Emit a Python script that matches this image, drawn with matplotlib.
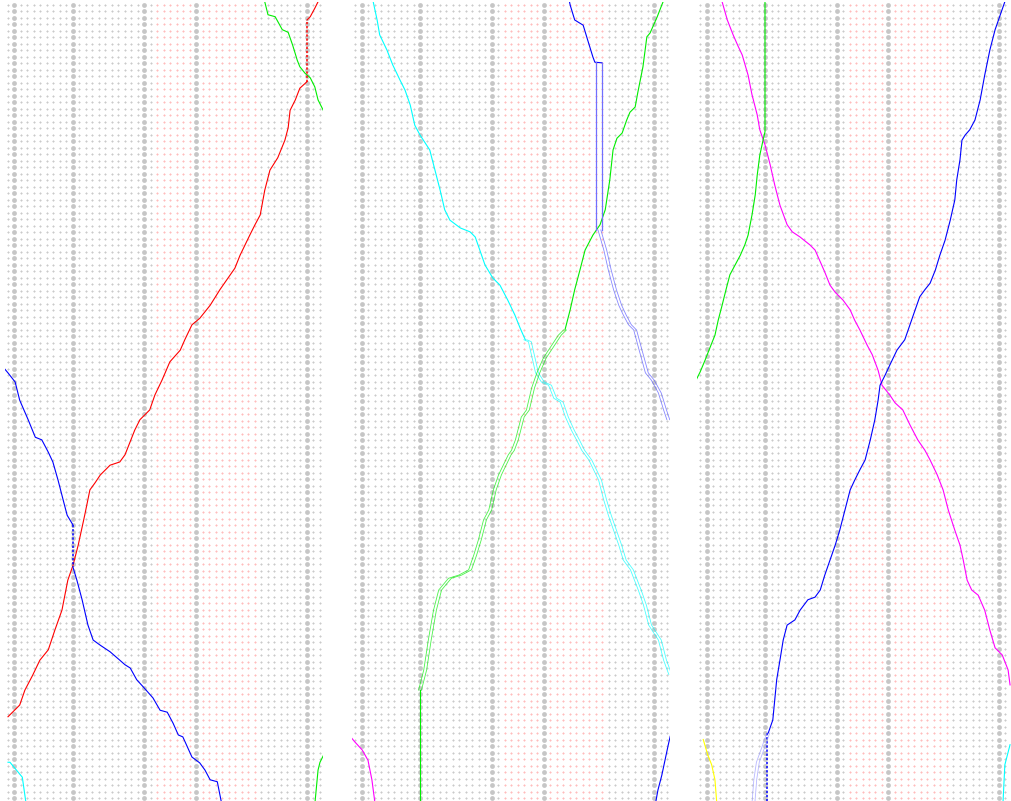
import matplotlib
matplotlib.use("Agg")
import matplotlib.pyplot as plt

# grid of positions: 49 columns x 123 rows per panel
n_cols = 49
n_rows = 123
big_cols = [1, 10, 21, 29, 46]
pink_cols = [c for c in range(23, 39) if c != 29]

# ---- panel 1 traces (column, row) ----
red1 = [(0, 109.5), (1.8, 107.7), (2.6, 105.4), (3.8, 103.1), (4.9, 100.8), (6.2, 99.2),
        (7.2, 96.2), (8.3, 93.1), (9.2, 88.5), (10, 86.2), (10.8, 83.1), (11.8, 78.5),
        (12.6, 74.6), (13.4, 73.5), (14.2, 72.3), (15.7, 70.8), (17.2, 70.3), (18, 69.2),
        (19.5, 65.4), (20.3, 63.8), (21.8, 62.3), (22.6, 60), (23.7, 57.7), (24.9, 54.9),
        (26.5, 53.1), (27.2, 51.5), (28.3, 49.2), (29.5, 48.2), (31.1, 46.2), (32.6, 43.8),
        (34.2, 41.5), (34.9, 40.5), (35.7, 38.5), (37.2, 35.4), (38, 33.8), (38.8, 32.3),
        (39.5, 28.5), (40.3, 25.4), (41.5, 23.5), (42.6, 20.8), (43.1, 18.9), (43.4, 16.2),
        (44.2, 14.6), (44.9, 12.8), (46, 11.8)]
red1_dotted = [(46, 11.8), (46, 2.3)]
red1_top = [(46, 2.3), (46.5, 1.8), (47.2, 0.5), (47.7, -0.5)]

blue1 = [(-0.5, 56.0), (0, 56.6), (1.1, 58), (1.8, 60.8), (3.1, 63.8), (4.2, 66.5), (5.2, 66.9),
         (6.2, 68.8), (6.9, 70.3), (7.7, 73.1), (8.5, 76.2), (9.1, 78.5), (10, 80)]
blue1_dotted = [(10, 80), (10, 86.5)]
blue1_low = [(10, 86.5), (10.6, 88.5), (11.4, 91.5), (12.3, 95.4), (13.1, 97.7), (14.2, 98.5),
             (15.7, 99.5), (17.2, 100.8), (18, 101.5), (18.8, 102), (19.8, 103.8), (20.8, 104.9),
             (22.3, 106.6), (23.4, 108.5), (24.5, 108.8), (25.4, 110.5), (26.2, 112.3),
             (26.9, 112.6), (28.3, 115.7), (29.5, 116.6), (30.3, 117.7), (31.1, 119.2),
             (32.2, 119.5), (32.9, 123)]

cyan1 = [(0, 116.5), (0.3, 116.5), (2.2, 118.8), (2.8, 123)]

green1_top = [(39.5, -0.5), (40, 1.5), (41.1, 1.8), (42.2, 3.8), (43.1, 4.2), (43.8, 6.2),
              (44.5, 8.5), (44.9, 9.5), (45.7, 10.5), (46.5, 11.2), (47.2, 12.6), (47.7, 14.6),
              (48.5, 16.2)]
green1_bot = [(48.5, 115.5), (48, 116.5), (47.7, 117.7), (47.2, 123)]

# ---- panel 2 traces ----
cyan2 = [(2.8, -0.5), (3.4, 2.3), (3.8, 4.6), (4.9, 6.9), (5.8, 9.2), (6.9, 11.5), (7.7, 13.1),
         (8.5, 15.4), (9.2, 18.5), (10, 20), (11.5, 22.3), (12.3, 25.4), (13.1, 28.5),
         (13.8, 31.5), (14.6, 33.1), (16.2, 34.3), (17.7, 34.9), (18.5, 35.7), (19.2, 37.7),
         (20, 40), (21.2, 42), (22.3, 43.1), (23.5, 45.4), (24.6, 47.7), (25.4, 49.7),
         (26.2, 51.5)]
cyan2_hollow = [(26.2, 51.5), (26.9, 51.8), (28, 56.6), (28.9, 58), (30, 58.5), (30.8, 60.5),
                (31.8, 61.1), (32.6, 63.4), (33.5, 65.4), (34.3, 66.9), (35.1, 68.5), (36.2, 70),
                (37.7, 73.1), (38.5, 76.2), (39.2, 78.5), (40, 80.8), (40.8, 83.1), (41.5, 85.4),
                (42.6, 86.9), (43.8, 90), (44.6, 92.3), (45.4, 95.4), (46.9, 97.7), (47.7, 100.8),
                (48.5, 103.0)]

green2_bot = [(10, 123), (10, 105.4)]
green2_hollow = [(10, 105.4), (10.8, 102.3), (11.5, 97.7), (12.3, 93.1), (13.1, 90), (14.6, 88.2),
                 (16.2, 87.7), (17.7, 86.9), (18.5, 84.6), (19.2, 82.3), (20, 79.2), (20.8, 77.7),
                 (21.5, 74.6), (22.3, 72.3), (23.8, 69.2), (24.3, 68.5), (24.9, 66.9), (25.8, 63.4),
                 (26.6, 62.3), (27.4, 58.9), (28.2, 56.6), (29.2, 54.3), (31.5, 50.8), (32.3, 50)]
green2_top = [(32.3, 50), (33.1, 46.9), (33.8, 43.8), (34.6, 40.8), (35.4, 37.7), (36.6, 35.4),
              (37.7, 33.8), (38.5, 31.5), (39.2, 26.9), (39.7, 22.3), (40.3, 20.5), (41.1, 19.7),
              (41.8, 17.7), (42.3, 16.5), (43.1, 15.7), (43.5, 13.5), (44.3, 9.5), (44.9, 4.9),
              (45.4, 4.3), (46.5, 1.8), (47.2, 0), (47.4, -0.5)]

blue2_top = [(33.0, -0.5), (33.1, 0), (33.8, 2.3), (34.6, 2.8), (35.1, 3.1), (35.8, 5.4),
             (36.6, 8), (36.9, 8.8), (38.0, 8.9)]
blue2_band_left = [(37.1, 8.8), (37.1, 34.6)]
blue2_band_right = [(38.0, 8.9), (38.0, 34.6)]
blue2_hollow = [(37.6, 34.6), (38.5, 37.7), (39.2, 40.8), (40, 43.8), (40.8, 46.2), (41.5, 47.7),
                (42.3, 49.2), (43.1, 50), (43.8, 52.6), (44.9, 56.6), (45.8, 57.7), (46.9, 59.7),
                (47.7, 62.3), (48.2, 63.8)]
blue2_bot = [(48.5, 112.5), (48.2, 113.8), (47.2, 118.5), (46.6, 120.8), (46.2, 123)]

magenta2 = [(-0.5, 112.8), (0, 113.4), (1.1, 114.6), (2, 116.2), (2.6, 119.2), (3.1, 123)]

# ---- panel 3 traces ----
magenta3 = [(3.4, -0.5), (4.2, 2.3), (5.1, 4.6), (5.8, 6.2), (6.5, 7.7), (7.4, 10.8), (8, 13.8),
            (8.8, 16.9), (9.2, 19.2), (10, 21.5), (10.8, 24.6), (11.5, 27.7), (12.3, 30.8),
            (13.4, 33.8), (14.2, 34.9), (15.4, 35.7), (16.9, 36.9), (17.7, 37.7), (18.5, 39.5),
            (19.2, 41.1), (20, 43.1), (20.8, 44.2), (22, 45.4), (23.1, 46.9), (23.8, 48.5),
            (24.6, 50), (25.7, 52.3), (26.5, 53.8), (27.4, 56.2), (28, 58.5), (29.2, 60),
            (30, 61.2), (31.2, 62.3), (32.3, 64.6), (33.5, 66.9), (34.6, 68.5), (35.4, 70),
            (36.5, 72.3), (37.4, 74.6), (38.2, 77.7), (39.2, 80.8), (40, 83.1), (40.5, 85.4),
            (41.1, 88.5), (41.8, 90), (42.8, 90.8), (43.8, 93.1), (44.6, 96.2), (45.4, 98.9),
            (46.5, 100), (47.4, 102.3), (47.7, 104.6)]

green3 = [(-0.5, 57.5), (0, 56.5), (0.8, 54.6), (1.5, 52.8), (2.3, 50.8), (2.8, 48.5), (3.4, 46.2),
          (4, 43.8), (4.6, 41.5), (5.4, 40), (6.2, 38.5), (6.9, 36.9), (7.4, 35.4), (8, 32.3),
          (8.5, 29.2), (8.8, 26.2), (9.2, 23.1), (9.7, 20.8), (10, 19.5), (10, -0.5)]

blue3 = [(46.9, -0.5), (46.2, 1.5), (45.4, 3.8), (44.6, 6.9), (43.8, 10.8), (43.1, 14.6),
         (42.3, 17.7), (41.5, 19.2), (40.8, 20), (40.3, 20.8), (40, 23.8), (39.5, 26.9),
         (39.2, 30), (38.5, 33.1), (37.7, 36.2), (36.9, 38.5), (36.2, 40.8), (35.4, 42.8),
         (34.6, 43.8), (33.8, 44.9), (33.1, 46.9), (32.3, 49.2), (31.5, 51.5), (30.3, 53.1),
         (29.2, 55.4), (28.5, 56.9), (27.7, 58.5), (27.4, 60.8), (26.9, 63.8), (26.2, 66.9),
         (25.4, 70), (24.6, 71.5), (23.8, 73.1), (23.1, 74.6), (22.3, 77.7), (21.5, 80.8),
         (20.8, 83.1), (20, 85.4), (19.2, 87.7), (18.5, 90), (17.7, 91.1), (16.6, 91.5),
         (15.4, 93.1), (14.6, 94.6), (13.4, 95.4), (12.8, 97.7), (12.3, 100.8), (11.8, 103.8),
         (11.5, 106.9), (11.2, 110), (10.5, 112)]
blue3_dotted = [(10.3, 112), (10.3, 123)]
blue3_hollow = [(10.5, 112), (9.7, 114.3), (8.9, 116.5), (8.5, 119.2), (8.2, 123)]

yellow3 = [(0.5, 113), (1.2, 115.4), (1.8, 116.9), (2.3, 119.2), (2.6, 123)]
cyan3 = [(47.7, 113.8), (46.9, 116.9), (46.6, 123)]

RED, BLUE, GREEN = "#ff0000", "#0000ff", "#00ee00"
CYAN, MAGENTA, YELLOW = "#00ffff", "#ff00ff", "#ffff00"

panels = [
    {"solid": [(red1, RED), (red1_top, RED), (blue1, BLUE), (blue1_low, BLUE), (cyan1, CYAN),
               (green1_top, GREEN), (green1_bot, GREEN)],
     "dotted": [(red1_dotted, RED), (blue1_dotted, BLUE)],
     "hollow": []},
    {"solid": [(cyan2, CYAN), (green2_bot, GREEN), (green2_top, GREEN), (blue2_top, BLUE),
               (blue2_bot, BLUE), (magenta2, MAGENTA)],
     "dotted": [],
     "hollow": [(cyan2_hollow, CYAN), (green2_hollow, GREEN), (blue2_hollow, "#5555ff")],
     "band": [(blue2_band_left, "#7070ff"), (blue2_band_right, "#7070ff")]},
    {"solid": [(magenta3, MAGENTA), (green3, GREEN), (blue3, BLUE), (yellow3, YELLOW),
               (cyan3, CYAN)],
     "dotted": [(blue3_dotted, BLUE)],
     "hollow": [(blue3_hollow, "#9999ff")]},
]

W, H = 1011, 801
dx = 6.5
col0_px = [8, 355, 700]
row0_px = 5

fig = plt.figure(figsize=(W / 100, H / 100), dpi=100)

for i, p in enumerate(panels):
    left = (col0_px[i] - dx / 2) / W
    width = n_cols * dx / W
    top = (row0_px - dx / 2) / H
    height = n_rows * dx / H
    ax = fig.add_axes([left, 1 - top - height, width, height])
    ax.set_xlim(-0.5, n_cols - 0.5)
    ax.set_ylim(n_rows - 0.5, -0.5)
    ax.axis("off")

    # background markers
    rows = list(range(n_rows))
    for c in range(n_cols):
        if c in big_cols:
            ax.scatter([c] * n_rows, rows, s=12, color="#c6c6c6", marker="o", lw=0, zorder=1)
        else:
            col = "#ffbcbc" if c in pink_cols else "#cacaca"
            ax.scatter([c] * n_rows, rows, s=4.5, color=col, marker="+", lw=0.8, zorder=1)

    for pts, color in p["solid"]:
        xs, ys = zip(*pts)
        ax.plot(xs, ys, color=color, lw=0.8, zorder=3)
    for pts, color in p["dotted"]:
        xs, ys = zip(*pts)
        ax.plot(xs, ys, color=color, lw=1.1, ls=(0, (1.5, 1.2)), zorder=3)
    for pts, color in p["hollow"]:
        xs, ys = zip(*pts)
        for off in (-0.22, 0.22):
            ax.plot([x + off for x in xs], ys, color=color, lw=0.6, alpha=0.7, zorder=3)
    for pts, color in p.get("band", []):
        xs, ys = zip(*pts)
        ax.plot(xs, ys, color=color, lw=0.9, zorder=3)

fig.savefig("out.png", dpi=100)
